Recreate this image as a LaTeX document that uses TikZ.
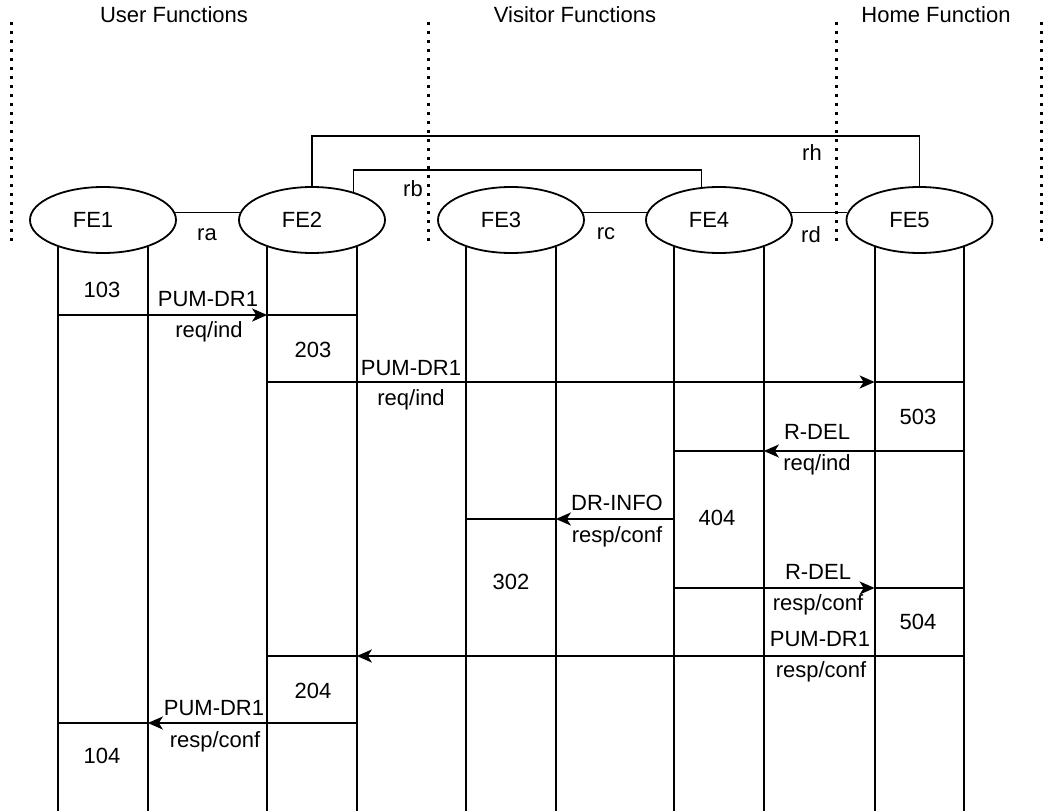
\documentclass[tikz,border=0pt]{standalone}
\usepackage{fontspec}
\setmainfont{Liberation Sans}
\usetikzlibrary{shapes.geometric,arrows.meta,calc}
\begin{document}
\begin{tikzpicture}[x=1pt,y=-1pt,
  ln/.style={line width=1.8pt},
  fe/.style={ellipse,draw,line width=1.8pt,minimum width=146pt,minimum height=66pt,inner sep=0pt},
  txt/.style={font=\fontsize{22}{26}\selectfont,inner sep=0pt},
  msg/.style={line width=1.8pt,-{Stealth[length=15pt,width=13pt,inset=4pt]}},
  divider/.style={line width=3pt,dash pattern=on 3pt off 6pt},
]
\fill[white] (0,0) rectangle (1045,811);
\useasboundingbox (0,0) rectangle (1045,811);

% domain titles
\node[txt] (t1) at (174,15) {User Functions};
\node[txt] (t2) at (575,15) {Visitor Functions};
\node[txt] (t3) at (936,15) {Home Function};

% dotted dividers
\foreach \x in {11,428,836,1041} \draw[divider] (\x,22) -- (\x,241);

% functional entities
\node[fe] (FE1) at (103,220) {};
\node[fe] (FE2) at (312,220) {};
\node[fe] (FE3) at (511,220) {};
\node[fe] (FE4) at (719,220) {};
\node[fe] (FE5) at (919.5,220) {};
\foreach \i in {1,...,5} \node[txt] (FE\i t) at ([xshift=-10pt]FE\i.center) {FE\i};

% relationships
\draw[ln] (FE1.6) -- (FE2.174);
\draw[ln] (FE3.6) -- (FE4.174);
\draw[ln] (FE4.6) -- (FE5.174);
\coordinate (rbtop) at (0,170);
\draw[ln] (FE2.34) -- (FE2.34 |- rbtop) -| (FE4.118);
\draw[ln] (FE2.north) -- ++(0,-50) -| (FE5.north);
\node[txt] (ra) at (207,235) {ra};
\node[txt] (rb) at (413,189) {rb};
\node[txt] (rc) at (606,234) {rc};
\node[txt] (rd) at (811,235) {rd};
\node[txt] (rh) at (812,153) {rh};

% lifelines
\coordinate (bot) at (0,811);
\foreach \i in {1,...,5} {
  \coordinate (A\i) at (FE\i.-149);
  \coordinate (B\i) at (FE\i.-31);
  \draw[ln] (A\i) -- (A\i |- bot);
  \draw[ln] (B\i) -- (B\i |- bot);
}

% message levels
\coordinate (y1) at (0,315);
\coordinate (y2) at (0,382);
\coordinate (y3) at (0,451);
\coordinate (y4) at (0,519);
\coordinate (y5) at (0,588);
\coordinate (y6) at (0,656);
\coordinate (y7) at (0,723);

% messages
\draw[msg] (A1 |- y1) -- (A2 |- y1);
\draw[ln]  (A2 |- y1) -- (B2 |- y1);
\draw[msg] (A2 |- y2) -- (A5 |- y2);
\draw[ln]  (A5 |- y2) -- (B5 |- y2);
\draw[msg] (B5 |- y3) -- (B4 |- y3);
\draw[ln]  (B4 |- y3) -- (A4 |- y3);
\draw[msg] (A4 |- y4) -- (B3 |- y4);
\draw[ln]  (B3 |- y4) -- (A3 |- y4);
\draw[msg] (A4 |- y5) -- (A5 |- y5);
\draw[ln]  (A5 |- y5) -- (B5 |- y5);
\draw[msg] (B5 |- y6) -- (B2 |- y6);
\draw[ln]  (B2 |- y6) -- (A2 |- y6);
\draw[msg] (B2 |- y7) -- (B1 |- y7);
\draw[ln]  (B1 |- y7) -- (A1 |- y7);

% message labels
\node[txt] (l1a) at (208,299) {PUM-DR1};
\node[txt] (l1b) at (209,332) {req/ind};
\node[txt] (l2a) at (411,368) {PUM-DR1};
\node[txt] (l2b) at (411,400) {req/ind};
\node[txt] (l3a) at (817,432) {R-DEL};
\node[txt] (l3b) at (817,465) {req/ind};
\node[txt] (l4a) at (617,503) {DR-INFO};
\node[txt] (l4b) at (617,537) {resp/conf};
\node[txt] (l5a) at (818,572) {R-DEL};
\node[txt] (l5b) at (818,605) {resp/conf};
\node[txt] (l6a) at (820,639) {PUM-DR1};
\node[txt] (l6b) at (821,672) {resp/conf};
\node[txt] (l7a) at (214,708) {PUM-DR1};
\node[txt] (l7b) at (215,742) {resp/conf};

% action numbers
\node[txt] (n103) at (102,290) {103};
\node[txt] (n203) at (313,350) {203};
\node[txt] (n503) at (918,417) {503};
\node[txt] (n404) at (717,518) {404};
\node[txt] (n302) at (511,582) {302};
\node[txt] (n504) at (918,622) {504};
\node[txt] (n204) at (313,691) {204};
\node[txt] (n104) at (102,756) {104};
\end{tikzpicture}
\end{document}
